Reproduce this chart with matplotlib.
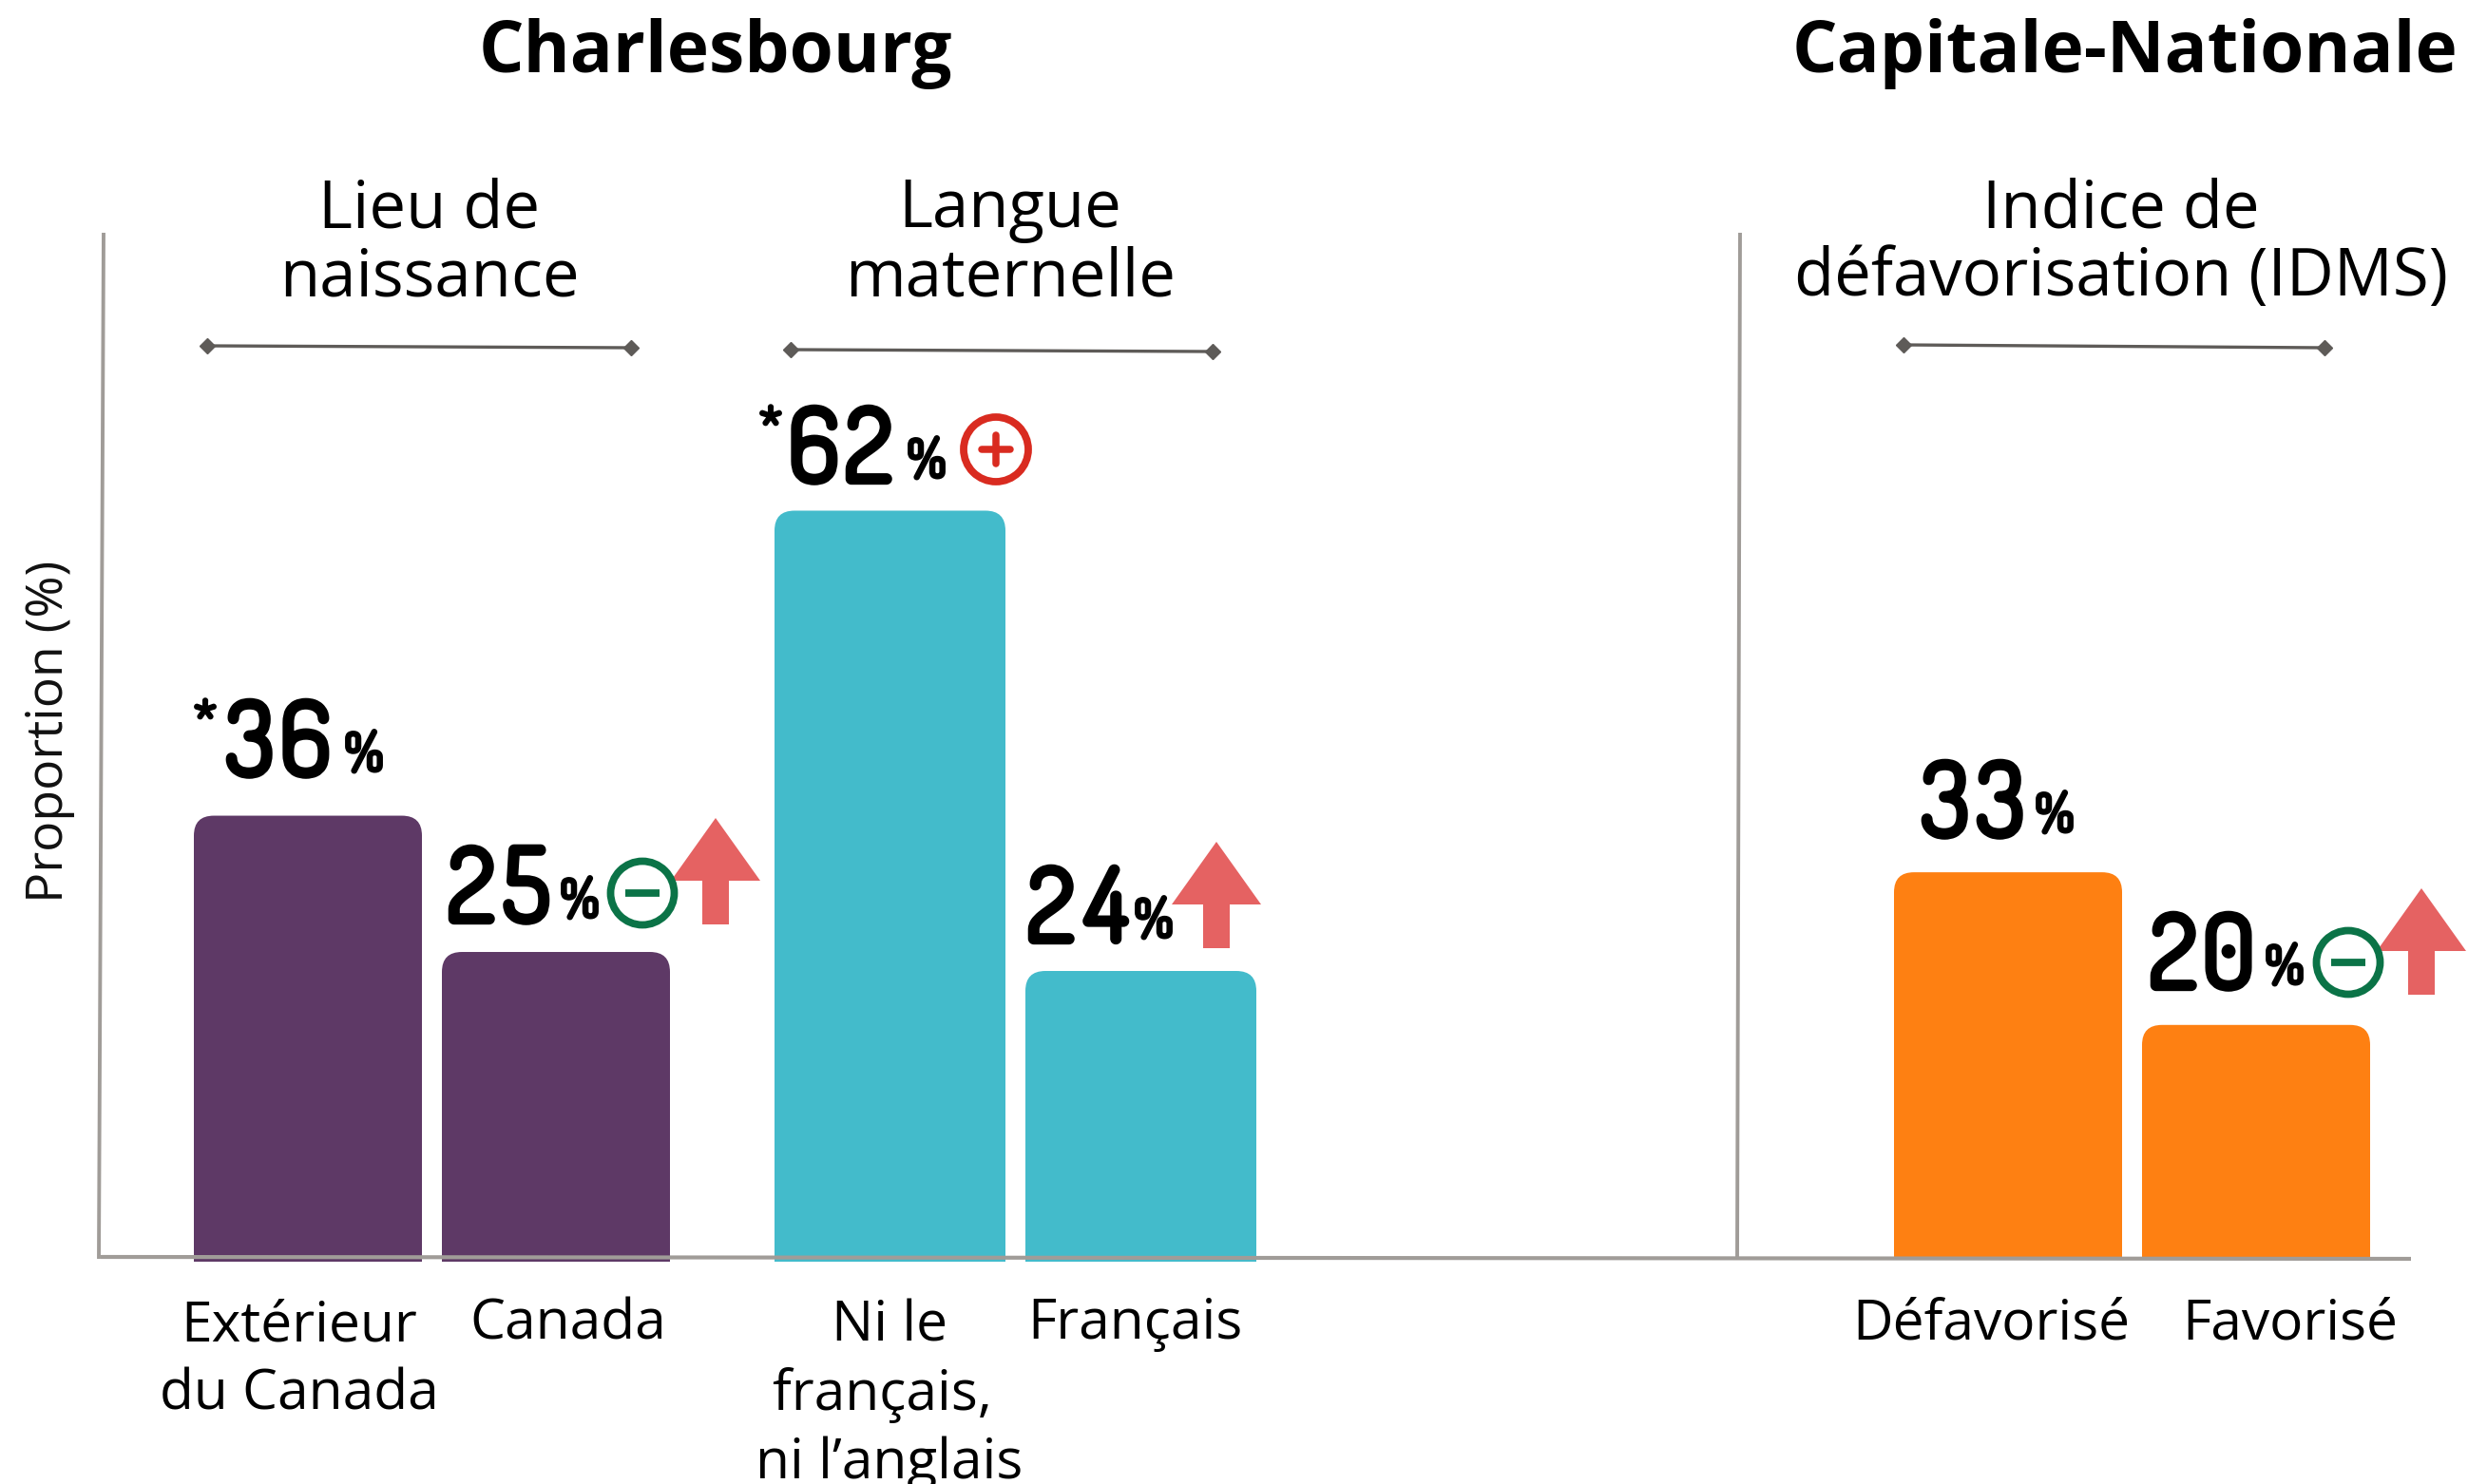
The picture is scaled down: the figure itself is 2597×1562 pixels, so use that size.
import matplotlib
matplotlib.use('Agg')
from matplotlib import pyplot as plt
from matplotlib import patheffects as pe
from matplotlib.patches import Circle, PathPatch, Polygon
from matplotlib.path import Path

W, H = 2597, 1562

# data
categories_naissance = ['Extérieur\ndu Canada', 'Canada']
values_naissance = [36, 25]
categories_langue = ['Ni le\nfrançais,\u00a0\nni l’anglais', 'Français']
values_langue = [62, 24]
categories_idms = ['Défavorisé', 'Favorisé']
values_idms = [33, 20]

titles = ['Charlesbourg', 'Capitale-Nationale']
group_names = ['Lieu de\nnaissance', 'Langue\nmaternelle', 'Indice de\ndéfavorisation (IDMS)']
ylabel = 'Proportion (%)'

TEXT = 'Open Sans'
NUM = ['Dosis', 'Roboto']
LINE = '#A09C98'
DARK = '#5E5B58'
ARROW = '#E56262'
GREEN = '#0B7347'
RED = '#D92B20'

fig = plt.figure(figsize=(W / 100, H / 100), dpi=100, facecolor='white')


def full_axes(xlim, ylim):
    ax = fig.add_axes([0, 0, 1, 1], facecolor='none')
    ax.set_xlim(*xlim)
    ax.set_ylim(*ylim)
    ax.axis('off')
    return ax


def rounded_bars(values, lefts, width, color, base, scale):
    # each group has its own vertical scale, as in the original
    ax = full_axes((0, W), ((base - H) / scale, base / scale))
    bars = ax.bar(lefts, values, width=width, align='edge', color=color)
    r = 21
    for b in list(bars):
        x0, x1 = b.get_x(), b.get_x() + b.get_width()
        h = b.get_height()
        ry = r / scale
        verts = [(x0, 0), (x0, h - ry), (x0, h), (x0 + r, h), (x1 - r, h), (x1, h), (x1, h - ry), (x1, 0), (x0, 0)]
        codes = [Path.MOVETO, Path.LINETO, Path.CURVE3, Path.CURVE3, Path.LINETO,
                 Path.CURVE3, Path.CURVE3, Path.LINETO, Path.CLOSEPOLY]
        ax.add_patch(PathPatch(Path(verts, codes), facecolor=color, edgecolor='none'))
        b.remove()


rounded_bars(values_naissance, [204, 465], 240, '#5E3966', 1328, 13.04)
rounded_bars(values_langue, [815, 1079], 243, '#43BBCB', 1328, 12.75)
rounded_bars(values_idms, [1993, 2254], 240, '#FE8012', 1326, 12.36)

# overlay in pixel coordinates for everything else
ov = full_axes((0, W), (H, 0))

# axes lines
ov.plot([106, 2537], [1323, 1325], color=LINE, lw=3, zorder=5, solid_capstyle='butt')
ov.plot([109, 104], [245, 1325], color=LINE, lw=2.8, zorder=5, solid_capstyle='butt')
ov.plot([1831, 1828], [245, 1325], color=LINE, lw=2.8, zorder=5, solid_capstyle='butt')

# brackets
for x0, y0, x1, y1 in [(218, 364, 664, 366), (832, 368, 1276, 370), (2003, 363, 2446, 366)]:
    ov.plot([x0, x1], [y0, y1], color=DARK, lw=2.4, marker='D', ms=8.5, mec=DARK, mfc=DARK)

# titles
for t, x in zip(titles, [753, 2236]):
    ov.text(x, 76, t, family=TEXT, weight='bold', fontsize=53.8, ha='center', va='baseline')

# group headings
for t, x in zip(group_names, [452, 1063, 2232]):
    for i, line in enumerate(t.split('\n')):
        ov.text(x, 239 + i * 72, line, family=TEXT, fontsize=49.6, ha='center', va='baseline')

ov.text(52, 770, ylabel, family=TEXT, fontsize=38.5, rotation=90, ha='center', va='center', color='#111111')

# category labels
all_cats = categories_naissance + categories_langue + categories_idms
cat_x = [315, 598, 936, 1194, 2095, 2410]
cat_y = [1412, 1409, 1412, 1409, 1409, 1409]
for t, x, y in zip(all_cats, cat_x, cat_y):
    for i, line in enumerate(t.split('\n')):
        ov.text(x, y + i * 72, line, family=TEXT, fontsize=42.2, ha='center', va='baseline')

# value labels, the font only has a light cut here so thicken with a stroke
all_vals = values_naissance + values_langue + values_idms
num_x = [292, 525, 885, 1135, 2076, 2316]
num_y = [819, 973, 510, 994, 883, 1043]
pct_x = [383, 610, 975, 1214, 2162, 2404]
stars = [(216, 779), None, (811, 470), None, None, None]
pitch = 58  # digits are set wider apart than the font does
for v, x, y, px, s in zip(all_vals, num_x, num_y, pct_x, stars):
    digits = str(v)
    for d, dx in zip(digits, [-pitch / 2, pitch / 2]):
        ov.text(x + dx, y - 4, d, family=NUM, fontsize=75, ha='center', va='baseline', color='black',
                path_effects=[pe.withStroke(linewidth=6, foreground='black')])
    ov.text(px, y - 8, '%', family=NUM, fontsize=39, ha='center', va='baseline', color='black',
            path_effects=[pe.withStroke(linewidth=3.4, foreground='black')])
    if s:
        ov.text(s[0], s[1], '*', family=NUM, fontsize=42, ha='center', va='baseline', color='black',
                path_effects=[pe.withStroke(linewidth=3, foreground='black')])

# up arrows
for cx, top in [(753, 861), (1280, 886), (2548, 935)]:
    ov.add_patch(Polygon([(cx, top), (cx + 47, top + 66), (cx + 14, top + 66), (cx + 14, top + 112),
                          (cx - 14, top + 112), (cx - 14, top + 66), (cx - 47, top + 66)],
                         closed=True, facecolor=ARROW, edgecolor='none', zorder=4))

# significance circles
for cx, cy in [(676, 940), (2471, 1013)]:
    ov.add_patch(Circle((cx, cy), 33.5, facecolor='none', edgecolor=GREEN, lw=5.6, zorder=6))
    ov.plot([cx - 18, cx + 18], [cy, cy], color=GREEN, lw=5.6, solid_capstyle='butt', zorder=6)
cx, cy = 1048, 473
ov.add_patch(Circle((cx, cy), 34, facecolor='none', edgecolor=RED, lw=5.6, zorder=6))
ov.plot([cx - 15, cx + 15], [cy, cy], color=RED, lw=5.4, solid_capstyle='round', zorder=6)
ov.plot([cx, cx], [cy - 15, cy + 15], color=RED, lw=5.4, solid_capstyle='round', zorder=6)

fig.savefig('out.png', dpi=100)
